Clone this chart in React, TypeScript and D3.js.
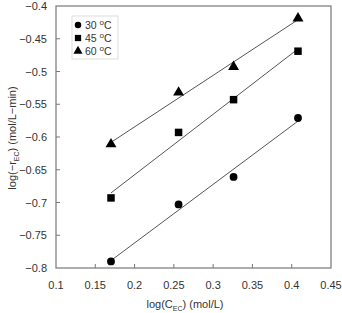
import React, { useEffect, useRef } from "react";
import * as d3 from "d3";

// log(C_EC) concentrations shared by every series
const logConc = [0.17, 0.256, 0.326, 0.408];

// log(-r_EC) at each temperature
const rate30 = [-0.79, -0.703, -0.661, -0.571];
const rate45 = [-0.693, -0.593, -0.543, -0.469];
const rate60 = [-0.611, -0.532, -0.493, -0.419];

const seriesNames = ["30", "45", "60"];
const xTicks = [0.1, 0.15, 0.2, 0.25, 0.3, 0.35, 0.4, 0.45];
const yTicks = [-0.4, -0.45, -0.5, -0.55, -0.6, -0.65, -0.7, -0.75, -0.8];

const App: React.FC = () => {
  const svgRef = useRef<SVGSVGElement>(null);

  useEffect(() => {
    const width = 342;
    const height = 313;
    const margin = { left: 56, right: 11, top: 6, bottom: 45 };
    const font = "'Liberation Sans', Arial, sans-serif";
    const textColor = "#333";
    const axisColor = "#777";

    const svg = d3.select(svgRef.current)
      .attr("width", width)
      .attr("height", height);
    svg.selectAll("*").remove();

    const x = d3.scaleLinear()
      .domain([0.1, 0.45])
      .range([margin.left, width - margin.right]);
    const y = d3.scaleLinear()
      .domain([-0.8, -0.4])
      .range([height - margin.bottom, margin.top]);

    // plot frame
    svg.append("rect")
      .attr("x", x(0.1))
      .attr("y", y(-0.4))
      .attr("width", x(0.45) - x(0.1))
      .attr("height", y(-0.8) - y(-0.4))
      .attr("fill", "none")
      .attr("stroke", axisColor)
      .attr("stroke-width", 1.2);

    // inward tick marks
    svg.append("g")
      .selectAll("line")
      .data(xTicks.slice(1, -1))
      .join("line")
      .attr("x1", (d) => x(d))
      .attr("x2", (d) => x(d))
      .attr("y1", y(-0.8))
      .attr("y2", y(-0.8) - 4)
      .attr("stroke", axisColor);
    svg.append("g")
      .selectAll("line")
      .data(yTicks.slice(1, -1))
      .join("line")
      .attr("x1", x(0.1))
      .attr("x2", x(0.1) + 4)
      .attr("y1", (d) => y(d))
      .attr("y2", (d) => y(d))
      .attr("stroke", axisColor);

    // tick labels
    svg.append("g")
      .selectAll("text")
      .data(xTicks)
      .join("text")
      .attr("x", (d) => x(d))
      .attr("y", y(-0.8) + 21)
      .attr("text-anchor", "middle")
      .attr("font-family", font)
      .attr("font-size", 11)
      .attr("fill", textColor)
      .text((d) => String(d));
    svg.append("g")
      .selectAll("text")
      .data(yTicks)
      .join("text")
      .attr("x", x(0.1) - 9)
      .attr("y", (d) => y(d) + 4)
      .attr("text-anchor", "end")
      .attr("font-family", font)
      .attr("font-size", 11)
      .attr("fill", textColor)
      .text((d) => String(d).replace("-", "\u2212"));

    // axis titles
    const xTitle = svg.append("text")
      .attr("x", 185)
      .attr("y", 308)
      .attr("text-anchor", "middle")
      .attr("font-family", font)
      .attr("font-size", 11)
      .attr("fill", textColor);
    xTitle.append("tspan").text("log(C");
    xTitle.append("tspan").attr("font-size", 7).attr("dy", 3).text("EC");
    xTitle.append("tspan").attr("dy", -3).text(") (mol/L)");

    const yTitle = svg.append("text")
      .attr("transform", `translate(16, 138) rotate(-90)`)
      .attr("text-anchor", "middle")
      .attr("font-family", font)
      .attr("font-size", 11)
      .attr("fill", textColor);
    yTitle.append("tspan").text("log(\u2212r");
    yTitle.append("tspan").attr("font-size", 7).attr("dy", 2.5).text("EC");
    yTitle.append("tspan").attr("dy", -2.5).text(") (mol/L\u2212min)");

    const series = [rate30, rate45, rate60];
    const symbols = [d3.symbolCircle, d3.symbolSquare, d3.symbolTriangle];
    const sizes = [48, 56, 52];

    // least-squares trend line for each temperature
    series.forEach((vals) => {
      const mx = d3.mean(logConc) as number;
      const my = d3.mean(vals) as number;
      const sxy = d3.sum(logConc, (xv, i) => (xv - mx) * (vals[i] - my));
      const sxx = d3.sum(logConc, (xv) => (xv - mx) ** 2);
      const slope = sxy / sxx;
      const x0 = logConc[0];
      const x1 = logConc[logConc.length - 1];
      svg.append("line")
        .attr("x1", x(x0))
        .attr("y1", y(my + slope * (x0 - mx)))
        .attr("x2", x(x1))
        .attr("y2", y(my + slope * (x1 - mx)))
        .attr("stroke", "#555")
        .attr("stroke-width", 1);
    });

    series.forEach((vals, s) => {
      svg.append("g")
        .selectAll("path")
        .data(vals)
        .join("path")
        .attr("transform", (d, i) => `translate(${x(logConc[i])}, ${y(d)})`)
        .attr("d", d3.symbol().type(symbols[s]).size(sizes[s])())
        .attr("fill", "#000");
    });

    // legend
    const legend = svg.append("g").attr("transform", "translate(72, 16)");
    legend.append("rect")
      .attr("width", 46)
      .attr("height", 43)
      .attr("fill", "#fff")
      .attr("stroke", "#ddd");
    seriesNames.forEach((name, i) => {
      const cy = 9 + i * 13;
      legend.append("path")
        .attr("transform", `translate(6, ${cy})`)
        .attr("d", d3.symbol().type(symbols[i]).size(sizes[i] * 0.7)())
        .attr("fill", "#000");
      const t = legend.append("text")
        .attr("x", 13)
        .attr("y", cy + 4)
        .attr("font-family", font)
        .attr("font-size", 10.5)
        .attr("fill", textColor);
      t.append("tspan").text(`${name} `);
      t.append("tspan").attr("font-size", 8).attr("dy", -4).text("o");
      t.append("tspan").attr("dy", 4).text("C");
    });
  }, []);

  return <svg ref={svgRef} style={{ display: "block", position: "absolute", left: 0, top: 0 }}></svg>;
};

export default App;
